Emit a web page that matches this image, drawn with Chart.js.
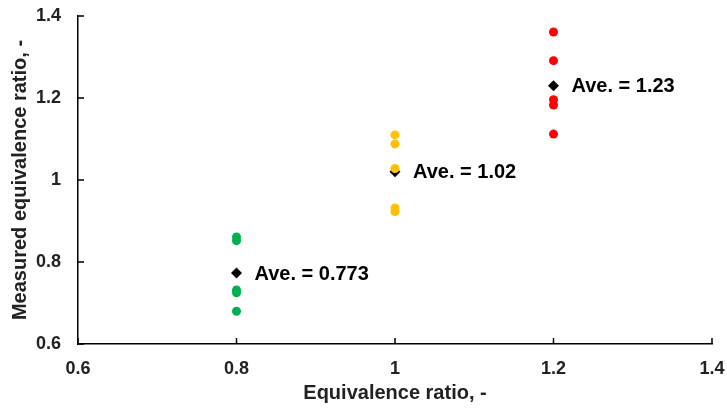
<!DOCTYPE html>
<html>
<head>
<meta charset="utf-8">
<script src="https://cdn.jsdelivr.net/npm/chart.js@4"></script>
<style>
  html, body { margin: 0; padding: 0; background: #fff; }
  #wrap { width: 727px; height: 409px; }
</style>
</head>
<body>
<div id="wrap"><canvas id="myChart"></canvas></div>
<script>
// data
const phiLean = [0.8, 0.8, 0.8, 0.8, 0.8];
const measLean = [0.861, 0.852, 0.732, 0.725, 0.680];
const phiStoich = [1.0, 1.0, 1.0, 1.0, 1.0];
const measStoich = [1.110, 1.088, 1.028, 0.932, 0.923];
const phiRich = [1.2, 1.2, 1.2, 1.2, 1.2];
const measRich = [1.361, 1.291, 1.196, 1.183, 1.112];
const phiAve = [0.8, 1.0, 1.2];
const measAve = [0.773, 1.02, 1.23];
const aveLabels = ['Ave. = 0.773', 'Ave. = 1.02', 'Ave. = 1.23'];
const xTicks = [0.6, 0.8, 1, 1.2, 1.4];
const yTicks = [0.6, 0.8, 1, 1.2, 1.4];

const FONT = 'Arial, "Liberation Sans", sans-serif';

function pts(xs, ys) {
  return xs.map((x, i) => ({ x: x, y: ys[i] }));
}

// inward tick marks + average labels
const extras = {
  id: 'extras',
  afterDatasetsDraw(chart) {
    const ctx = chart.ctx;
    const xs = chart.scales.x, ys = chart.scales.y;
    const area = chart.chartArea;
    ctx.save();
    ctx.strokeStyle = '#000';
    ctx.lineWidth = 1.5;
    ctx.beginPath();
    xTicks.forEach(v => {
      const px = xs.getPixelForValue(v);
      ctx.moveTo(px, area.bottom);
      ctx.lineTo(px, area.bottom - 6);
    });
    yTicks.forEach(v => {
      const py = ys.getPixelForValue(v);
      ctx.moveTo(area.left, py);
      ctx.lineTo(area.left + 6, py);
    });
    ctx.stroke();

    ctx.fillStyle = '#000';
    ctx.font = 'bold 20px ' + FONT;
    ctx.textAlign = 'left';
    ctx.textBaseline = 'middle';
    aveLabels.forEach((t, i) => {
      const px = xs.getPixelForValue(phiAve[i]);
      const py = ys.getPixelForValue(measAve[i]);
      ctx.fillText(t, px + 18, py + 1);
    });
    ctx.restore();
  }
};

const data = {
  datasets: [
    { label: 'lean', data: pts(phiLean, measLean), backgroundColor: '#00B050', borderWidth: 0, pointRadius: 4.5 },
    { label: 'stoich', data: pts(phiStoich, measStoich), backgroundColor: '#FFC000', borderWidth: 0, pointRadius: 4.5 },
    { label: 'rich', data: pts(phiRich, measRich), backgroundColor: '#FF0000', borderWidth: 0, pointRadius: 4.5 },
    { label: 'ave', data: pts(phiAve, measAve), backgroundColor: '#000', borderWidth: 0, pointStyle: 'rectRot', pointRadius: 5.5 }
  ]
};

const config = {
  type: 'scatter',
  data,
  plugins: [extras],
  options: {
    responsive: true,
    maintainAspectRatio: false,
    animation: false,
    layout: { padding: 0 },
    plugins: {
      legend: { display: false },
      tooltip: { enabled: false }
    },
    scales: {
      x: {
        type: 'linear',
        min: 0.6, max: 1.4,
        afterBuildTicks: axis => { axis.ticks = xTicks.map(v => ({ value: v })); },
        afterFit: axis => {
          axis.height = 65;
          axis.paddingLeft = 0;
          axis.paddingRight = 15;
        },
        grid: { display: false, drawTicks: false },
        border: { display: true, color: '#000', width: 1.5 },
        ticks: {
          color: '#222', padding: 14,
          font: { family: FONT, size: 18, weight: 'bold' },
          callback: v => String(v)
        },
        title: {
          display: true, text: 'Equivalence ratio, -', color: '#222',
          font: { family: FONT, size: 20, weight: 'bold' }, padding: { top: 4, bottom: 4 }
        }
      },
      y: {
        type: 'linear',
        min: 0.6, max: 1.4,
        afterBuildTicks: axis => { axis.ticks = yTicks.map(v => ({ value: v })); },
        afterFit: axis => {
          axis.width = 78;
          axis.paddingTop = 16;
          axis.paddingBottom = 0;
        },
        grid: { display: false, drawTicks: false },
        border: { display: true, color: '#000', width: 1.5 },
        ticks: {
          color: '#222', padding: 17,
          font: { family: FONT, size: 18, weight: 'bold' },
          callback: v => String(v)
        },
        title: {
          display: true, text: 'Measured equivalence ratio, -', color: '#222',
          font: { family: FONT, size: 20, weight: 'bold' }, padding: { top: 8, bottom: 0 }
        }
      }
    }
  }
};

new Chart(document.getElementById('myChart'), config);
</script>
</body>
</html>
